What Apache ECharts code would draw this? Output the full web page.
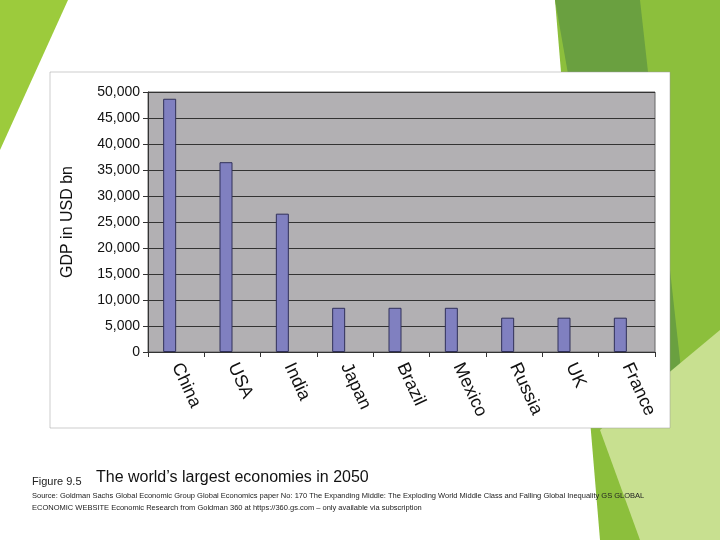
<!DOCTYPE html><html><head><meta charset="utf-8"><script src="https://cdn.jsdelivr.net/npm/echarts@6/dist/echarts.min.js"></script>
<style>html,body{margin:0;padding:0;background:#fff}#c{width:720px;height:540px}</style></head><body><div id="c"></div><script>
const categories=['China','USA','India','Japan','Brazil','Mexico','Russia','UK','France'];
const gdp=[48700,36500,26600,8500,8500,8500,6600,6600,6600];
const yTicks=[0,5000,10000,15000,20000,25000,30000,35000,40000,45000,50000];
const ch=echarts.init(document.getElementById('c'));
ch.setOption({
animation:false,
graphic:[
 {type:'polygon',shape:{points:[[0,0],[68,0],[0,150]]},style:{fill:'#9ccb3c'},z:-10},
 {type:'polygon',shape:{points:[[555,0],[720,0],[720,540],[600,540]]},style:{fill:'#8cbf3c'},z:-10},
 {type:'polygon',shape:{points:[[555,0],[640,0],[700,540],[650,540]]},style:{fill:'#6aa040'},z:-9},
 {type:'polygon',shape:{points:[[600,430],[720,330],[720,540],[640,540]]},style:{fill:'#c8e090'},z:-9},
 {type:'rect',shape:{x:50,y:72,width:620,height:356},style:{fill:'#fff',stroke:'#999',lineWidth:0.5},z:-5},
 {type:'text',left:32,top:476,style:{text:'Figure 9.5',fill:'#222',font:'11px Liberation Sans'}},
 {type:'text',left:96,top:470,style:{text:'The world’s largest economies in 2050',fill:'#111',font:'16px Liberation Sans'}},
 {type:'text',left:32,top:490,style:{text:'Source: Goldman Sachs Global Economic Group Global Economics paper No: 170 The Expanding Middle: The Exploding World Middle Class and Falling Global Inequality GS GLOBAL\nECONOMIC WEBSITE Economic Research from Goldman 360 at https://360.gs.com – only available via subscription',fill:'#222',font:'7.5px Liberation Sans',lineHeight:12}}
],
grid:{left:148,right:65,top:92,bottom:188,backgroundColor:'#b2b0b3',show:true,borderColor:'#666',borderWidth:1},
xAxis:{type:'category',data:categories,axisLine:{lineStyle:{color:'#333'}},axisTick:{show:true,alignWithLabel:false,lineStyle:{color:'#333'}},
 axisLabel:{rotate:-65,color:'#111',fontSize:18,fontFamily:'Liberation Sans',margin:12}},
yAxis:{type:'value',min:0,max:50000,interval:5000,name:'GDP in USD bn',nameLocation:'middle',nameGap:72,nameTextStyle:{fontSize:16,color:'#111',fontFamily:'Liberation Sans'},
 axisLine:{show:true,lineStyle:{color:'#333'}},axisTick:{show:true,lineStyle:{color:'#333'}},
 axisLabel:{color:'#111',fontSize:14,fontFamily:'Liberation Sans',formatter:v=>v.toLocaleString('en-US')},
 splitLine:{lineStyle:{color:'#333',width:1}}},
series:[{type:'bar',data:gdp,barWidth:13,barGap:'0%',
 itemStyle:{color:'#8080c0',borderColor:'#30305a',borderWidth:1}},
 {type:'bar',data:gdp.map(()=>0),barWidth:13,silent:true,itemStyle:{color:'transparent'}}]
});
</script></body></html>
